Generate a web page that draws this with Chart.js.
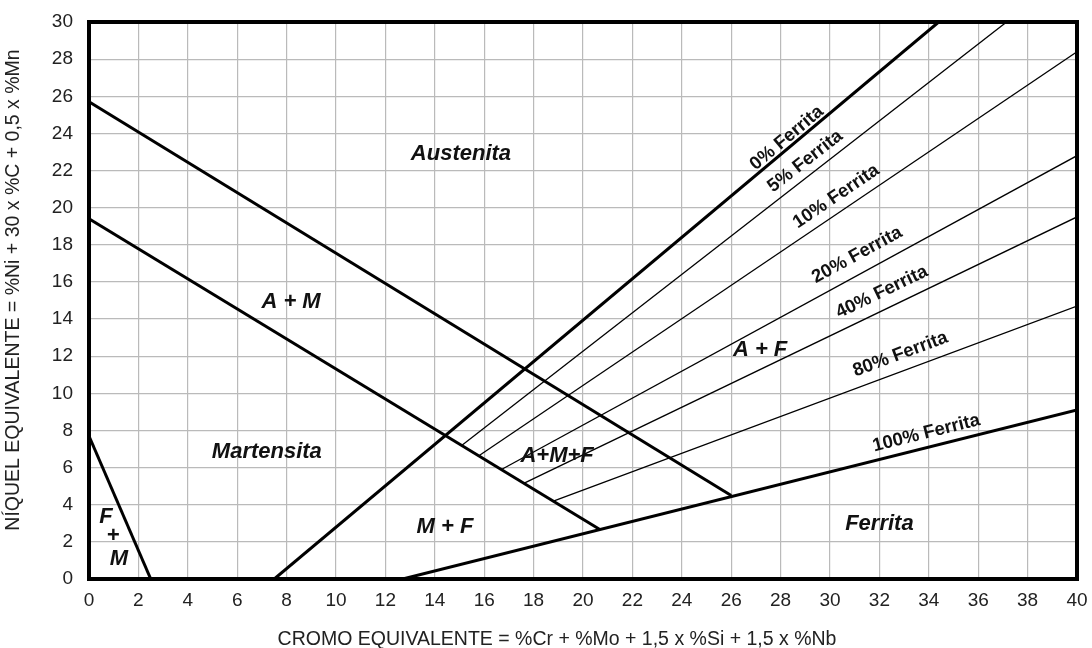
<!DOCTYPE html>
<html>
<head>
<meta charset="utf-8">
<script src="https://cdn.jsdelivr.net/npm/chart.js@4/dist/chart.umd.min.js"></script>
<style>
  html, body { margin: 0; padding: 0; background: #fff; }
  #wrap { width: 1092px; height: 648px; }
</style>
</head>
<body>
<div id="wrap"><canvas id="c" width="1092" height="648"></canvas></div>
<script>
// Schaeffler diagram: chromium equivalent (x) vs nickel equivalent (y)
const xMin = 0, xMax = 40, xStep = 2;
const yMin = 0, yMax = 30, yStep = 2;

// Phase boundaries (two end points each)
const limiteAustenitaX = [0, 26];
const limiteAustenitaY = [25.7, 4.5];
const limiteMartensitaX = [0, 20.7];
const limiteMartensitaY = [19.4, 2.65];
const limiteFMX = [0, 2.5];
const limiteFMY = [7.7, 0];

// Ferrite iso-lines
const ferritaLabels = ['0% Ferrita', '5% Ferrita', '10% Ferrita', '20% Ferrita', '40% Ferrita', '80% Ferrita', '100% Ferrita'];
const ferritaStartX = [7.5, 15.1, 15.8, 16.7, 17.6, 18.8, 12.7];
const ferritaStartY = [0, 7.2, 6.65, 5.9, 5.15, 4.2, 0];
const ferritaEndX = [34.4, 37.15, 40, 40, 40, 40, 40];
const ferritaEndY = [30, 30, 28.4, 22.8, 19.5, 14.7, 9.1];
const ferritaLabelX = [28.25, 29.0, 30.25, 31.1, 32.1, 32.85, 33.9];
const ferritaLabelY = [23.75, 22.5, 20.6, 17.45, 15.45, 12.1, 7.85];

// Phase region names
const regionLabels = ['Austenita', 'A + M', 'Martensita', 'M + F', 'A+M+F', 'A + F', 'Ferrita', 'F', '+', 'M'];
const regionX = [15.06, 8.18, 7.2, 14.41, 18.95, 27.17, 32.0, 0.69, 0.97, 1.21];
const regionY = [22.89, 14.92, 6.84, 2.8, 6.62, 12.33, 2.96, 3.34, 2.32, 1.08];

const xTitle = 'CROMO EQUIVALENTE = %Cr + %Mo + 1,5 x %Si + 1,5 x %Nb';
const yTitle = 'NÍQUEL EQUIVALENTE = %Ni + 30 x %C + 0,5 x %Mn';

const FONT = "'Liberation Sans', Arial, Helvetica, sans-serif";

function segment(xs, ys, width) {
  return {
    data: xs.map((x, i) => ({ x: x, y: ys[i] })),
    showLine: true,
    borderColor: '#000',
    borderWidth: width,
    pointRadius: 0,
    fill: false,
    tension: 0
  };
}

const datasets = [
  segment(limiteAustenitaX, limiteAustenitaY, 3),
  segment(limiteMartensitaX, limiteMartensitaY, 3),
  segment(limiteFMX, limiteFMY, 3)
];
ferritaLabels.forEach((name, i) => {
  const thick = (i === 0 || i === ferritaLabels.length - 1);
  const ds = segment([ferritaStartX[i], ferritaEndX[i]], [ferritaStartY[i], ferritaEndY[i]], thick ? 3 : 1.3);
  ds.label = name;
  datasets.push(ds);
});

const overlay = {
  id: 'overlay',
  afterDatasetsDraw(chart) {
    const { ctx, chartArea: a } = chart;
    ctx.save();
    ctx.strokeStyle = '#000';
    ctx.lineWidth = 4;
    ctx.strokeRect(a.left, a.top, a.right - a.left, a.bottom - a.top);
    ctx.restore();
  },
  afterDraw(chart) {
    const { ctx } = chart;
    const sx = chart.scales.x, sy = chart.scales.y;
    ctx.save();
    ctx.fillStyle = '#111';
    ctx.textAlign = 'center';
    ctx.textBaseline = 'middle';

    // region names
    ctx.font = 'italic bold 22px ' + FONT;
    regionLabels.forEach((t, i) => {
      ctx.fillText(t, sx.getPixelForValue(regionX[i]), sy.getPixelForValue(regionY[i]));
    });

    // ferrite line names, rotated along their lines
    ctx.font = 'bold 18.5px ' + FONT;
    ferritaLabels.forEach((t, i) => {
      const x1 = sx.getPixelForValue(ferritaStartX[i]), y1 = sy.getPixelForValue(ferritaStartY[i]);
      const x2 = sx.getPixelForValue(ferritaEndX[i]), y2 = sy.getPixelForValue(ferritaEndY[i]);
      const ang = Math.atan2(y2 - y1, x2 - x1);
      ctx.save();
      ctx.translate(sx.getPixelForValue(ferritaLabelX[i]), sy.getPixelForValue(ferritaLabelY[i]));
      ctx.rotate(ang);
      ctx.fillText(t, 0, 0);
      ctx.restore();
    });

    // axis titles
    ctx.fillStyle = '#222';
    ctx.font = '19.5px ' + FONT;
    ctx.textBaseline = 'alphabetic';
    ctx.fillText(xTitle, 557, 645);
    ctx.save();
    ctx.translate(19, 290);
    ctx.rotate(-Math.PI / 2);
    ctx.fillText(yTitle, 0, 0);
    ctx.restore();
    ctx.restore();
  }
};

new Chart(document.getElementById('c'), {
  type: 'scatter',
  data: { datasets: datasets },
  options: {
    responsive: false,
    animation: false,
    events: [],
    layout: { padding: { left: 0, top: 22, right: 15, bottom: 0 } },
    plugins: { legend: { display: false }, tooltip: { enabled: false }, title: { display: false } },
    scales: {
      x: {
        type: 'linear',
        min: xMin, max: xMax,
        afterFit: s => { s.height = 69; s.paddingLeft = 0; s.paddingRight = 0; },
        ticks: { stepSize: xStep, padding: 10, color: '#222', font: { family: FONT, size: 19 } },
        grid: { color: '#bababa', lineWidth: 1.2, drawTicks: false },
        border: { display: false }
      },
      y: {
        type: 'linear',
        min: yMin, max: yMax,
        afterFit: s => { s.width = 89; s.paddingTop = 0; s.paddingBottom = 0; },
        ticks: { stepSize: yStep, padding: 16, color: '#222', font: { family: FONT, size: 19 } },
        grid: { color: '#bababa', lineWidth: 1.2, drawTicks: false },
        border: { display: false }
      }
    }
  },
  plugins: [overlay]
});
</script>
</body>
</html>
